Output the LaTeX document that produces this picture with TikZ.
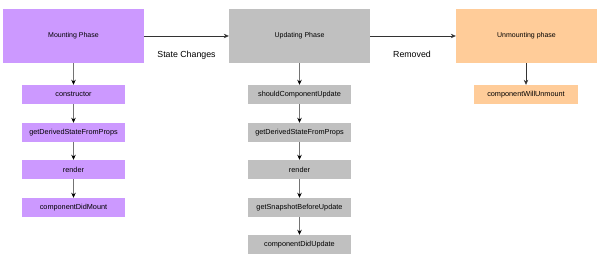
\documentclass[tikz,border=0pt]{standalone}
\usepackage{fontspec}
\setmainfont{Liberation Sans}
\usetikzlibrary{arrows.meta}
\definecolor{mpurple}{RGB}{204,153,255}
\definecolor{mgray}{RGB}{192,192,192}
\definecolor{morange}{RGB}{255,204,153}
\begin{document}
\begin{tikzpicture}[x=1pt,y=-1pt,
  phase/.style={minimum width=141pt,minimum height=54pt,inner sep=0pt,font=\fontsize{7}{8}\selectfont},
  sub/.style={minimum width=103pt,minimum height=19pt,inner sep=0pt,font=\fontsize{7.3}{8}\selectfont},
  varrow/.style={draw=black!55,line width=1pt,-{Stealth[length=5pt,width=4.5pt,black]}},
  harrow/.style={draw=black!80,line width=0.6pt,-{Stealth[length=5pt,width=4.5pt]}},
  lbl/.style={font=\fontsize{8.8}{10}\selectfont}]
\useasboundingbox (0,0) rectangle (600,264);
\fill[white] (0,0) rectangle (600,264);
% phases
\node[phase,fill=mpurple] (mp) at (73.5,36) {Mounting Phase};
\node[phase,fill=mgray] (up) at (299.5,36) {Updating Phase};
\node[phase,fill=morange] (unp) at (526.5,36) {Unmounting phase};
% mounting column
\node[sub,fill=mpurple] (m1) at (73.5,94.5) {constructor};
\node[sub,fill=mpurple] (m2) at (73.5,132.5) {getDerivedStateFromProps};
\node[sub,fill=mpurple] (m3) at (73.5,169.5) {render};
\node[sub,fill=mpurple] (m4) at (73.5,207.5) {componentDidMount};
% updating column
\node[sub,fill=mgray] (u1) at (299.5,94.5) {shouldComponentUpdate};
\node[sub,fill=mgray] (u2) at (299.5,132.5) {getDerivedStateFromProps};
\node[sub,fill=mgray] (u3) at (299.5,169.5) {render};
\node[sub,fill=mgray] (u4) at (299.5,207.5) {getSnapshotBeforeUpdate};
\node[sub,fill=mgray] (u5) at (299.5,244.5) {componentDidUpdate};
% unmounting column
\node[sub,fill=morange,minimum width=104pt] (x1) at (526,94.5) {componentWillUnmount};
% vertical arrows
\draw[varrow] (mp) -- (m1);
\draw[varrow] (m1) -- (m2);
\draw[varrow] (m2) -- (m3);
\draw[varrow] (m3) -- (m4);
\draw[varrow] (up) -- (u1);
\draw[varrow] (u1) -- (u2);
\draw[varrow] (u2) -- (u3);
\draw[varrow] (u3) -- (u4);
\draw[varrow] (u4) -- (u5);
\draw[harrow] (unp.south -| x1) -- (x1);
% horizontal arrows
\draw[harrow] (mp) -- node[lbl,below=11pt] (l1) {State Changes} (up);
\draw[harrow] (up) -- node[lbl,below=11pt,xshift=-1pt] (l2) {Removed} (unp);
\end{tikzpicture}
\end{document}
